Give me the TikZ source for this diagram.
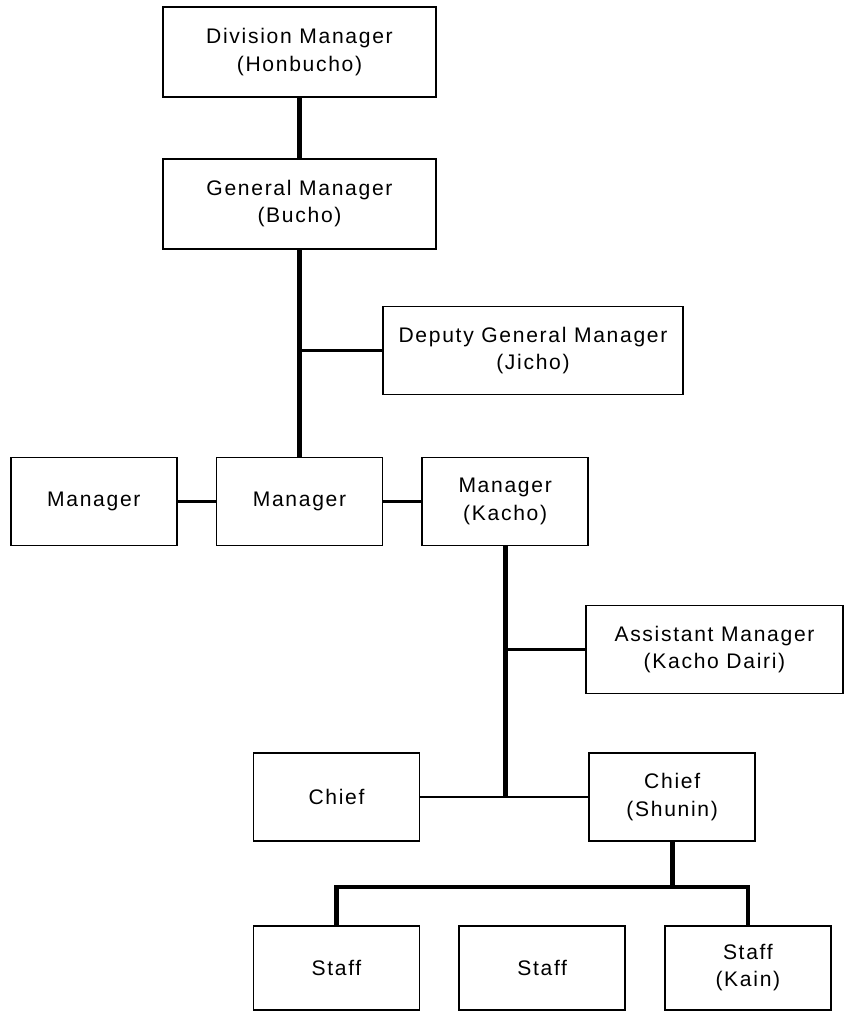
\documentclass[tikz,border=0pt]{standalone}
\usepackage{fontspec}
\setmainfont{Liberation Sans}[LetterSpace=8]
\usepackage{tikz}
\usetikzlibrary{positioning}
\tikzstyle{post} = [rectangle, draw=black, line width=1.2pt, minimum width=4.15cm, minimum height=2.2cm, inner sep=0pt, align=center, font=\fontsize{15}{19.5}\selectfont]
\tikzstyle{trunk} = [line width=3.8pt]
\tikzstyle{bus} = [line width=3pt]
\tikzstyle{link} = [line width=2pt]

\begin{document}
\begin{tikzpicture}
  \useasboundingbox (0,0) rectangle (21.15,-25.275);

  % Nodes
  \node (dm) [post, minimum width=6.825cm, minimum height=2.25cm] at (7.4875,-1.3) {Division Manager\\(Honbucho)};
  \node (gm) [post, minimum width=6.825cm, minimum height=2.25cm, below=1.5cm of dm] {General Manager\\(Bucho)};
  \node (dgm) [post, minimum width=7.5cm] at (13.325,-8.7625) {Deputy General Manager\\(Jicho)};
  \node (mgr2) [post, below=5.175cm of gm] {Manager};
  \node (mgr1) [post, left=0.95cm of mgr2] {Manager};
  \node (mgr3) [post, right=0.95cm of mgr2] {Manager\\(Kacho)};
  \node (asst) [post, minimum width=6.425cm] at (17.8625,-16.2375) {Assistant Manager\\(Kacho Dairi)};
  \node (chief1) [post] at (8.4125,-19.925) {Chief};
  \node (chief2) [post, right=4.2cm of chief1] {Chief\\(Shunin)};
  \node (staff1) [post, minimum height=2.1cm, below=2.075cm of chief1] {Staff};
  \node (staff2) [post, minimum height=2.1cm, right=0.95cm of staff1] {Staff};
  \node (staff3) [post, minimum height=2.1cm, right=0.95cm of staff2] {Staff\\(Kain)};

  % Lines
  \draw[trunk] (dm) -- (gm);
  \draw[trunk] (gm) -- (mgr2);
  \draw[link] (gm.south |- dgm.west) -- (dgm.west);
  \draw[link] (mgr1) -- (mgr2);
  \draw[link] (mgr2) -- (mgr3);
  \draw[trunk] (mgr3) -- (mgr3 |- chief2.west);
  \draw[link] (mgr3 |- asst.west) -- (asst);
  \draw[link] (chief1) -- (chief2);
  \draw[trunk] (chief2.south) -- ++(0,-1.125) coordinate (fork);
  \draw[bus] (staff1) |- (fork) -| (staff3);

\end{tikzpicture}
\end{document}
